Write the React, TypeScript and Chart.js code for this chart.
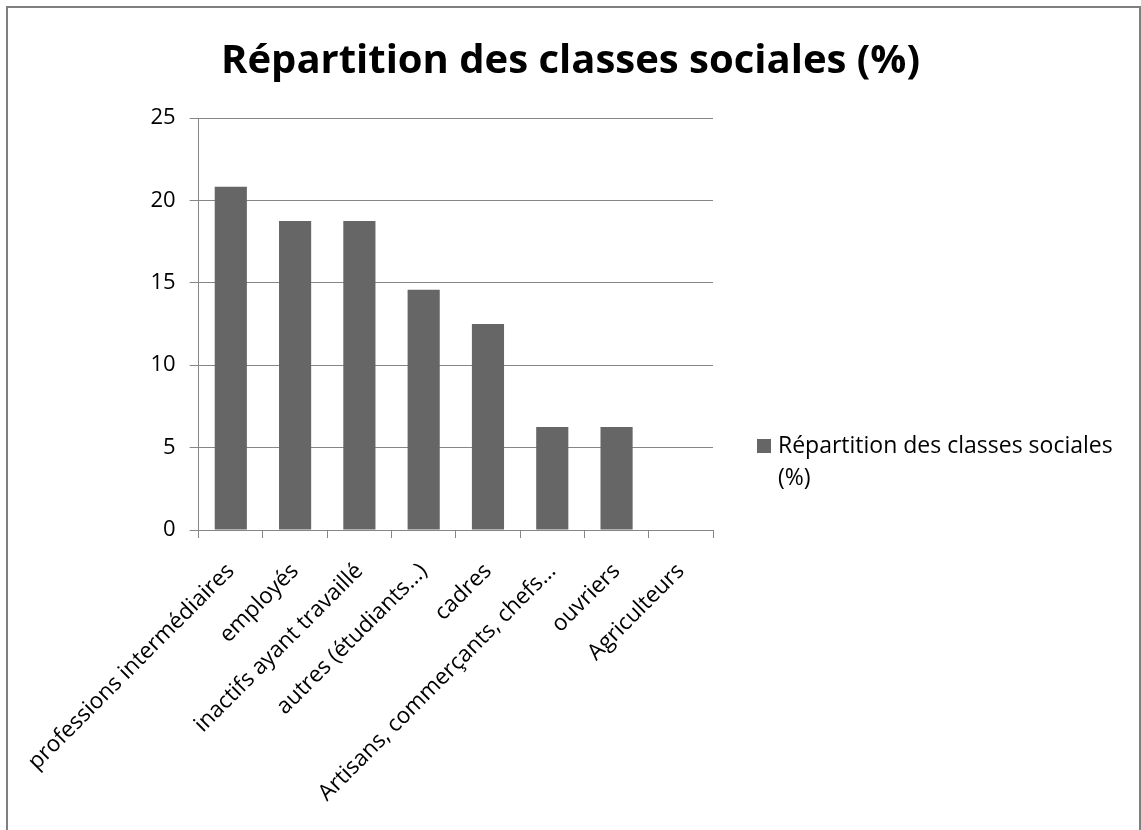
import React, { useEffect, useRef } from "react";
import { Chart, registerables } from "chart.js";

Chart.register(...registerables);

const categories = [
  "professions intermédiaires",
  "employés",
  "inactifs ayant travaillé",
  "autres (étudiants…)",
  "cadres",
  "Artisans, commerçants, chefs…",
  "ouvriers",
  "Agriculteurs",
];
const values = [20.83, 18.75, 18.75, 14.58, 12.5, 6.25, 6.25, 0];
const seriesLabel = "Répartition des classes sociales (%)";
const titleText = "Répartition des classes sociales (%)";

const FONT = "'Open Sans', Lato, sans-serif";
const GRID = "#868686";
const BAR = "#666666";

const legendPlugin = {
  id: "sideLegend",
  afterDraw(chart: any) {
    const ctx = chart.ctx;
    const ds = chart.data.datasets[0];
    const x0 = 757;
    const boxSize = 14;
    const textX = 778;
    const maxW = 350;
    const lineH = 32;
    const firstY = 446;
    ctx.save();
    ctx.font = `23px ${FONT}`;
    const words = String(ds.label).split(" ");
    const lines: string[] = [];
    let cur = "";
    for (const w of words) {
      const test = cur ? cur + " " + w : w;
      if (ctx.measureText(test).width > maxW && cur) {
        lines.push(cur);
        cur = w;
      } else cur = test;
    }
    if (cur) lines.push(cur);
    ctx.fillStyle = ds.backgroundColor;
    ctx.fillRect(x0, firstY - boxSize / 2, boxSize, boxSize);
    ctx.fillStyle = "#000000";
    ctx.textBaseline = "middle";
    ctx.textAlign = "left";
    lines.forEach((l, i) => ctx.fillText(l, textX, firstY + i * lineH));
    ctx.restore();
  },
};

export default function App() {
  const ref = useRef<HTMLCanvasElement>(null);
  useEffect(() => {
    if (!ref.current) return;
    const chart = new Chart(ref.current, {
      type: "bar",
      data: {
        labels: categories,
        datasets: [
          {
            label: seriesLabel,
            data: values,
            backgroundColor: BAR,
            borderWidth: 0,
            barPercentage: 0.5,
            categoryPercentage: 1.0,
          },
        ],
      },
      options: {
        responsive: false,
        animation: false,
        layout: { padding: 0 },
        plugins: {
          legend: { display: false },
          tooltip: { enabled: false },
          title: {
            display: true,
            text: titleText,
            color: "#000000",
            font: { family: FONT, size: 40, weight: "bold" },
            padding: { top: 38, bottom: 32 },
          },
        },
        scales: {
          x: {
            afterFit: (s: any) => {
              s.height = 300;
            },
            grid: {
              offset: true,
              drawOnChartArea: false,
              drawTicks: true,
              tickLength: 8,
              color: GRID,
            },
            border: { display: true, color: GRID, width: 1 },
            ticks: {
              autoSkip: false,
              minRotation: 45,
              maxRotation: 45,
              padding: 20,
              color: "#000000",
              font: { family: FONT, size: 22.5 },
            },
          },
          y: {
            min: 0,
            max: 25,
            afterFit: (s: any) => {
              s.width = 197;
            },
            grid: { color: GRID, tickLength: 9, drawTicks: true },
            border: { display: true, color: GRID, width: 1 },
            ticks: {
              stepSize: 5,
              padding: 14,
              color: "#000000",
              font: { family: FONT, size: 22 },
            },
          },
          spacer: {
            type: "linear",
            position: "right",
            display: true,
            afterFit: (s: any) => {
              s.width = 428;
            },
            grid: { display: false, drawTicks: false },
            border: { display: false },
            ticks: { display: false },
          },
        },
      },
      plugins: [legendPlugin],
    });
    return () => chart.destroy();
  }, []);
  return (
    <div style={{ position: "fixed", left: 0, top: 0, width: 1141, height: 830, overflow: "hidden", background: "#fff" }}>
      <div
        style={{
          position: "absolute",
          left: 6,
          top: 6,
          width: 1135,
          height: 900,
          border: "2px solid #7f7f7f",
          boxSizing: "border-box",
        }}
      />
      <canvas ref={ref} width={1141} height={830} style={{ position: "absolute", left: 0, top: 0, display: "block" }} />
    </div>
  );
}
